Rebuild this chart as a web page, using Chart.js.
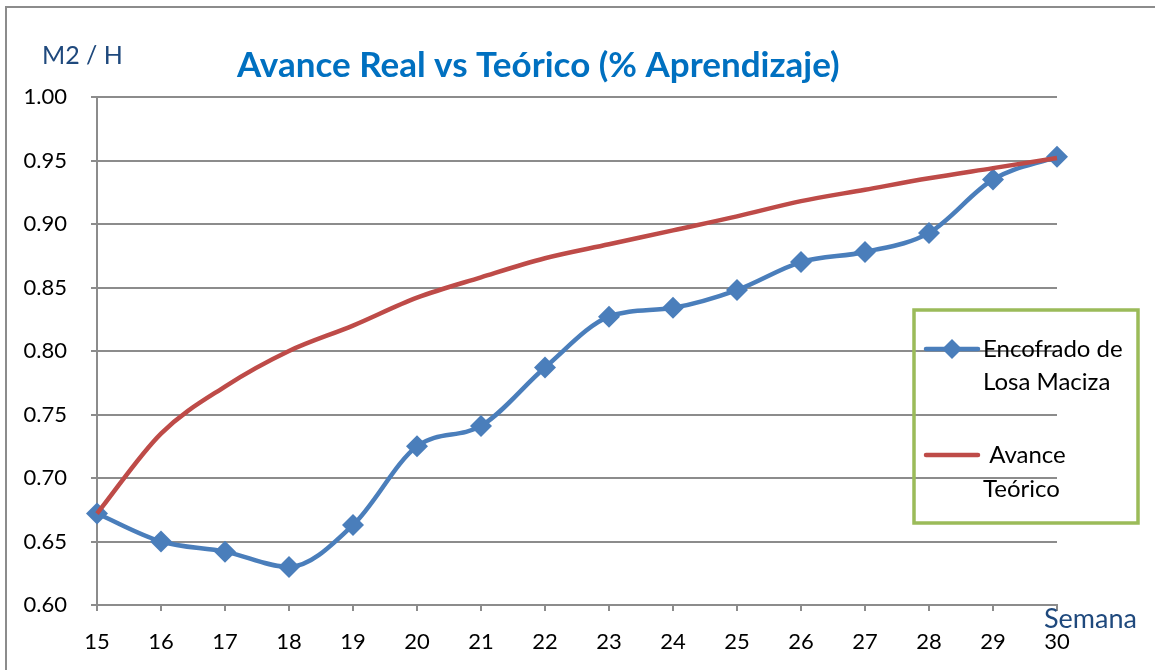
<!DOCTYPE html>
<html>
<head>
<meta charset="utf-8">
<script src="https://cdn.jsdelivr.net/npm/chart.js@4.4.1/dist/chart.umd.min.js"></script>
<style>
html,body{margin:0;padding:0;background:#fff;}
#wrap{width:1155px;height:670px;position:relative;}
</style>
</head>
<body>
<div id="wrap"><canvas id="c" width="1155" height="670"></canvas></div>
<script>
const weeks = [15,16,17,18,19,20,21,22,23,24,25,26,27,28,29,30];
const realValues = [0.672,0.650,0.642,0.630,0.663,0.725,0.741,0.787,0.827,0.834,0.848,0.870,0.878,0.893,0.935,0.953];
const theoreticalValues = [0.672,0.735,0.772,0.800,0.820,0.842,0.858,0.873,0.884,0.895,0.906,0.918,0.927,0.936,0.944,0.952];
const seriesNames = ['Encofrado de|Losa Maciza', ' Avance|Teórico'];
const titleText = 'Avance Real vs Teórico (% Aprendizaje)';
const yAxisTitle = 'M2 / H';
const xAxisTitle = 'Semana';

const FONT = 'Lato, "Open Sans", sans-serif';
const BLUE = '#4A7EBB';
const RED = '#BE4B48';
const GRID = '#8C8C8C';

const decor = {
  id: 'decor',
  beforeDraw(chart) {
    const ctx = chart.ctx;
    ctx.save();
    ctx.fillStyle = '#fff';
    ctx.fillRect(0,0,chart.width,chart.height);
    ctx.strokeStyle = '#8C8C8C';
    ctx.lineWidth = 2;
    ctx.beginPath();
    ctx.moveTo(6, 670); ctx.lineTo(6, 7); ctx.lineTo(1155, 7);
    ctx.stroke();
    ctx.restore();
  },
  afterDraw(chart) {
    const ctx = chart.ctx;
    ctx.save();
    // title
    ctx.fillStyle = '#0070C0';
    ctx.font = 'bold 35px ' + FONT;
    ctx.textAlign = 'left';
    ctx.textBaseline = 'middle';
    ctx.fillText(titleText, 237, 66);
    // axis titles
    ctx.fillStyle = '#1F497D';
    ctx.font = '25px ' + FONT;
    ctx.fillText(yAxisTitle, 42, 56);
    ctx.font = '27px ' + FONT;
    ctx.fillText(xAxisTitle, 1044, 619);
    // legend box
    ctx.strokeStyle = '#9BBB59';
    ctx.lineWidth = 3.5;
    ctx.strokeRect(914, 310, 224, 213);
    ctx.lineCap = 'round';
    ctx.lineWidth = 4.5;
    // blue entry
    ctx.strokeStyle = BLUE;
    ctx.beginPath(); ctx.moveTo(926, 349); ctx.lineTo(978, 349); ctx.stroke();
    ctx.fillStyle = BLUE;
    ctx.beginPath();
    ctx.moveTo(952, 339); ctx.lineTo(962, 349); ctx.lineTo(952, 359); ctx.lineTo(942, 349); ctx.closePath(); ctx.fill();
    // red entry
    ctx.strokeStyle = RED;
    ctx.beginPath(); ctx.moveTo(926, 455); ctx.lineTo(978, 455); ctx.stroke();
    ctx.fillStyle = '#000';
    ctx.font = '24px ' + FONT;
    const l1 = seriesNames[0].split('|');
    const l2 = seriesNames[1].split('|');
    ctx.fillText(l1[0], 983, 349);
    ctx.fillText(l1[1], 983, 382);
    ctx.fillText(l2[0], 983, 455);
    ctx.fillText(l2[1], 983, 489);
    ctx.restore();
  }
};

new Chart(document.getElementById('c'), {
  type: 'line',
  data: {
    labels: weeks,
    datasets: [
      {
        label: seriesNames[1].replace('|',' '),
        data: theoreticalValues,
        borderColor: RED,
        borderWidth: 4.5,
        pointRadius: 0,
        cubicInterpolationMode: 'monotone',
        fill: false
      },
      {
        label: seriesNames[0].replace('|',' '),
        data: realValues,
        borderColor: BLUE,
        backgroundColor: BLUE,
        borderWidth: 4.5,
        pointStyle: 'rectRot',
        pointRadius: 11,
        pointBorderWidth: 0,
        cubicInterpolationMode: 'monotone',
        fill: false
      }
    ]
  },
  options: {
    responsive: false,
    animation: false,
    devicePixelRatio: 1,
    layout: { padding: { left: 0, right: 98, top: 97, bottom: 0 } },
    plugins: { legend: { display: false }, tooltip: { enabled: false }, title: { display: false } },
    scales: {
      x: {
        type: 'category',
        offset: false,
        grid: { drawOnChartArea: false, drawTicks: true, tickLength: 6, color: GRID, lineWidth: 2 },
        border: { display: true, color: GRID, width: 2 },
        ticks: { color: '#000', font: { family: FONT, size: 22 }, padding: 18, maxRotation: 0, autoSkip: false },
        afterFit(s) { s.height = 65; }
      },
      y: {
        min: 0.60, max: 1.00,
        grid: { drawOnChartArea: true, drawTicks: true, tickLength: 6, color: GRID, lineWidth: 2 },
        border: { display: true, color: GRID, width: 2 },
        ticks: { stepSize: 0.05, color: '#000', font: { family: FONT, size: 22 }, padding: 24,
                 callback: v => v.toFixed(2) },
        afterFit(s) { s.width = 97; }
      }
    }
  },
  plugins: [decor]
});
</script>
</body>
</html>
